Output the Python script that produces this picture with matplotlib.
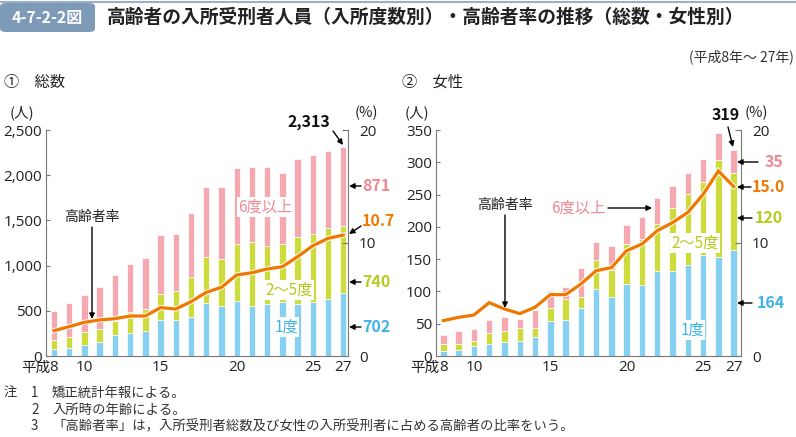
import matplotlib
matplotlib.use("Agg")
import matplotlib.pyplot as plt
import matplotlib.patheffects as pe
from matplotlib.patches import FancyBboxPatch
from matplotlib.lines import Line2D
import numpy as np

plt.rcParams['font.family'] = ['Noto Sans CJK JP', 'DejaVu Sans']
NUMFONT = ['Open Sans', 'DejaVu Sans']

years = list(range(8, 28))
xtick_vals = [8, 10, 15, 20, 25, 27]
xtick_labels = ['8', '10', '15', '20', '25', '27']

# ① 総数
total_1do = [74, 92, 125, 159, 229, 254, 273, 402, 398, 435, 583, 549, 605, 553, 575, 597, 575, 594, 634, 702]
total_2_5 = [103, 122, 144, 136, 162, 229, 243, 284, 317, 435, 508, 528, 634, 704, 642, 638, 738, 752, 782, 740]
total_6up = [324, 369, 406, 465, 505, 531, 572, 652, 631, 712, 782, 796, 844, 830, 877, 785, 870, 874, 855, 871]
total_rate = [2.24, 2.6, 2.98, 3.19, 3.3, 3.54, 3.54, 4.28, 4.16, 4.81, 5.63, 6.08, 7.17, 7.37, 7.7, 7.9, 8.79, 9.76, 10.41, 10.7]

# ② 女性
fem_1do = [8, 10, 15, 19, 21, 23, 29, 54, 55, 74, 103, 92, 111, 110, 131, 132, 141, 156, 154, 164]
fem_2_5 = [10, 8, 9, 17, 17, 21, 15, 20, 33, 18, 45, 41, 63, 71, 74, 97, 110, 113, 150, 120]
fem_6up = [14, 20, 18, 19, 22, 13, 28, 27, 19, 44, 28, 37, 29, 34, 40, 34, 33, 36, 42, 35]
fem_rate = [3.13, 3.42, 3.63, 4.72, 4.16, 3.75, 4.31, 5.43, 5.43, 6.37, 7.55, 7.82, 9.32, 9.91, 11.09, 11.8, 12.71, 14.3, 16.37, 15.0]

C_BLUE = '#86D0F2'
C_GREEN = '#CDDC3C'
C_PINK = '#F5A8AF'
C_ORANGE = '#EE7800'
T_BLUE = '#3DB3E8'
T_GREEN = '#B5CA1A'
T_PINK = '#EE8893'
GREY = '#777777'

W, H = 796, 437
fig = plt.figure(figsize=(W / 100, H / 100), dpi=100)


def fp(x, y):
    return (x / W, 1 - y / H)


# header
fig.add_artist(Line2D([0, 1], [1 - 2 / H] * 2, color='#9AB0C8', lw=1.5, transform=fig.transFigure))
box = FancyBboxPatch(fp(0, 32), 95 / W, 29 / H, boxstyle='round,pad=0,rounding_size=0.008',
                     transform=fig.transFigure, facecolor='#7D9BB9', edgecolor='none')
fig.add_artist(box)
fig.text(*fp(47, 17.5), '4-7-2-2図', color='white', fontsize=11.5, fontweight='bold', ha='center', va='center')
fig.text(*fp(107, 17.5), '高齢者の入所受刑者人員（入所度数別）・高齢者率の推移（総数・女性別）',
         color='#222222', fontsize=13.5, fontweight='bold', ha='left', va='center')
fig.text(*fp(794, 57), '(平成8年～ 27年)', fontsize=10, ha='right', va='center', color='#333333')
fig.text(*fp(4, 82), '①　総数', fontsize=11, ha='left', va='center', color='#222222')
fig.text(*fp(402, 82), '②　女性', fontsize=11, ha='left', va='center', color='#222222')

# notes
notes = [('注', '1', '矯正統計年報による。'),
         ('', '2', '入所時の年齢による。'),
         ('', '3', '「高齢者率」は，入所受刑者総数及び女性の入所受刑者に占める高齢者の比率をいう。')]
for i, (a, b, c) in enumerate(notes):
    yy = 393 + i * 16.5
    fig.text(*fp(4, yy), a, fontsize=9.6, va='center', color='#333333')
    fig.text(*fp(31, yy), b, fontsize=9.6, va='center', color='#333333')
    fig.text(*fp(52, yy), c, fontsize=9.6, va='center', color='#333333')


def make_panel(left, right, xlim, ymax, ystep, yfmt, d1, d25, d6, rate):
    ax = fig.add_axes([left / W, 1 - 356 / H, (right - left) / W, 226 / H])
    x = np.array(years)
    d1 = np.array(d1); d25 = np.array(d25); d6 = np.array(d6)
    bw = 0.42
    ax.bar(x, d1, bw, color=C_BLUE, edgecolor='white', linewidth=0.5, zorder=2)
    ax.bar(x, d25, bw, bottom=d1, color=C_GREEN, edgecolor='white', linewidth=0.5, zorder=2)
    ax.bar(x, d6, bw, bottom=d1 + d25, color=C_PINK, edgecolor='white', linewidth=0.5, zorder=2)
    ax.set_xlim(*xlim)
    ax.set_ylim(0, ymax)
    ax.set_yticks(np.arange(0, ymax + 1, ystep))
    ax.set_yticklabels([yfmt(v) for v in np.arange(0, ymax + 1, ystep)], fontfamily=NUMFONT)
    ax.set_xticks(xtick_vals)
    ax.set_xticklabels(xtick_labels, fontfamily=NUMFONT)
    for s in ['top', 'right']:
        ax.spines[s].set_visible(False)
    for s in ['left', 'bottom']:
        ax.spines[s].set_color(GREY)
        ax.spines[s].set_linewidth(0.8)
    ax.tick_params(axis='y', direction='in', length=3, color=GREY, labelsize=11, pad=3, labelcolor='#222222')
    ax.tick_params(axis='x', length=0, labelsize=11, pad=3, labelcolor='#222222')
    ax.text(8 - 0.22, -0.022, '平成', transform=ax.get_xaxis_transform(), ha='right', va='top',
            fontsize=10.5, color='#222222')

    ax2 = ax.twinx()
    ax2.set_ylim(0, 20)
    ax2.set_yticks([0, 10, 20])
    ax2.set_yticklabels(['0', '10', '20'], fontfamily=NUMFONT)
    for s in ['top', 'left', 'bottom']:
        ax2.spines[s].set_visible(False)
    ax2.spines['right'].set_color(GREY)
    ax2.spines['right'].set_linewidth(0.8)
    ax2.tick_params(axis='y', direction='in', length=4, color=GREY, labelsize=11, pad=8, labelcolor='#222222')
    ax2.plot(x, rate, color=C_ORANGE, lw=2.3, solid_joinstyle='miter', zorder=5,
             path_effects=[pe.Stroke(linewidth=3.7, foreground='white'), pe.Normal()])
    ax2.set_xlim(*xlim)
    return ax, ax2


ax1, ax1r = make_panel(46, 348, (7.475, 27.31), 2500, 500, lambda v: f'{int(v):,}',
                       total_1do, total_2_5, total_6up, total_rate)
ax2, ax2r = make_panel(436, 741, (7.52, 27.48), 350, 50, lambda v: f'{int(v)}',
                       fem_1do, fem_2_5, fem_6up, fem_rate)

for xpix in (10, 405):
    fig.text(*fp(xpix, 113), '(人)', fontsize=10.5, ha='left', va='center', color='#222222')
fig.text(*fp(355, 113), '(%)', fontsize=10.5, ha='left', va='center', color='#222222')
fig.text(*fp(745, 113), '(%)', fontsize=10.5, ha='left', va='center', color='#222222')

ARW = dict(arrowstyle='-|>', color='black', lw=1.0, mutation_scale=8, shrinkA=0, shrinkB=0)


def arrow(tail, head):
    fig.add_artist(matplotlib.patches.FancyArrowPatch(fp(*tail), fp(*head), transform=fig.transFigure, **ARW))


def label(xy, s, color, size=11.5, weight='bold', ha='left', bbox=False):
    kw = {}
    if bbox:
        kw['bbox'] = dict(facecolor='white', edgecolor='none', pad=1.0)
    fig.text(*fp(*xy), s, color=color, fontsize=size, fontweight=weight, ha=ha, va='center', zorder=10, **kw)


# panel 1 labels
label((309, 122), f'{sum([total_1do[-1], total_2_5[-1], total_6up[-1]]):,}', '#111111', ha='center')
arrow((333, 131), (343, 145))
label((362, 186), str(total_6up[-1]), T_PINK)
arrow((361, 186), (349, 186))
label((362, 221), f'{total_rate[-1]:.1f}', C_ORANGE)
arrow((361, 226), (349, 234))
label((362, 282), str(total_2_5[-1]), T_GREEN)
arrow((361, 282), (349, 282))
label((362, 327), str(total_1do[-1]), T_BLUE)
arrow((361, 327), (349, 327))
label((265, 207), '6度以上', T_PINK, size=11, weight='normal', ha='center', bbox=True)
label((289, 290), '2～5度', T_GREEN, size=11, weight='normal', ha='center', bbox=True)
label((286, 327), '1度', T_BLUE, size=11, weight='normal', ha='center', bbox=True)
label((92, 217), '高齢者率', '#222222', size=10, weight='normal', ha='center')
arrow((92, 227), (92, 319))

# panel 2 labels
label((726, 115), str(fem_1do[-1] + fem_2_5[-1] + fem_6up[-1]), '#111111', ha='center')
arrow((728, 127), (733, 147))
label((765, 162), str(fem_6up[-1]), T_PINK)
arrow((758, 162), (737, 162))
label((752, 187), f'{fem_rate[-1]:.1f}', C_ORANGE)
arrow((751, 187), (737, 187))
label((755, 218), str(fem_2_5[-1]), T_GREEN)
arrow((752, 218), (737, 218))
label((757, 303), str(fem_1do[-1]), T_BLUE)
arrow((752, 303), (737, 303))
label((578, 208), '6度以上', T_PINK, size=11, weight='normal', ha='center')
arrow((608, 208), (652, 208))
label((695, 243), '2～5度', T_GREEN, size=11, weight='normal', ha='center', bbox=True)
label((692, 330), '1度', T_BLUE, size=11, weight='normal', ha='center', bbox=True)
label((505, 205), '高齢者率', '#222222', size=10, weight='normal', ha='center')
arrow((505, 215), (505, 308))

fig.savefig('out.png', dpi=100)
